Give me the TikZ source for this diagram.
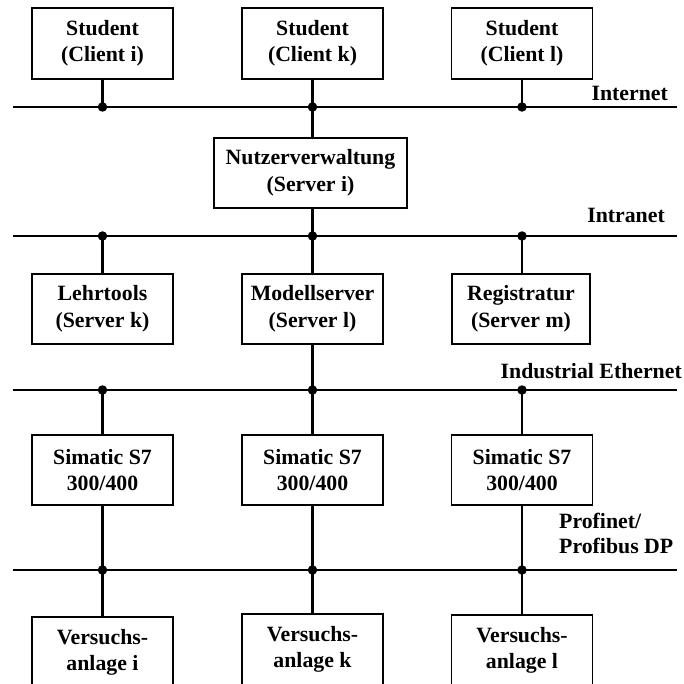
\documentclass[tikz,border=0pt]{standalone}
\usepackage{fontspec}
\setmainfont{Liberation Serif}
\begin{document}
\begin{tikzpicture}[x=1pt,y=-1pt,
  box/.style={draw, line width=1.3pt, minimum width=141pt, minimum height=71pt, inner sep=0pt, align=center, font=\fontsize{21.8}{26.5}\selectfont\bfseries},
  bus/.style={line width=2.8pt},
  link/.style={line width=2.6pt},
  dot/.style={circle, fill, inner sep=0pt, minimum size=9.5pt},
  lbl/.style={inner sep=0pt, font=\fontsize{21.8}{25}\selectfont\bfseries}]
\useasboundingbox (0,0) rectangle (684,684);
\clip (0,0) rectangle (684,684);

% boxes
\node[box] (ci) at (102.5,43.5) {Student\\(Client i)};
\node[box] (ck) at (312.5,43.5) {Student\\(Client k)};
\node[box] (cl) at (522,43.5) {Student\\(Client l)};
\node[box, minimum width=193pt, minimum height=70pt] (nv) at (310.5,173) {Nutzerverwaltung\\(Server i)};
\node[box, minimum height=70pt] (lt) at (102.5,309) {Lehrtools\\(Server k)};
\node[box, minimum height=70pt] (ms) at (312.5,309) {Modellserver\\(Server l)};
\node[box, minimum width=138pt, minimum height=70pt] (rg) at (521,309) {Registratur\\(Server m)};
\node[box, minimum height=70pt] (s1) at (102.5,470) {Simatic S7\\300/400};
\node[box, minimum height=70pt] (s2) at (312.5,470) {Simatic S7\\300/400};
\node[box, minimum height=70pt] (s3) at (522,470) {Simatic S7\\300/400};
\node[box] (v1) at (102.5,652.5) {Versuchs-\\anlage i};
\node[box] (v2) at (312.5,649.5) {Versuchs-\\anlage k};
\node[box] (v3) at (522,650.5) {Versuchs-\\anlage l};

% bus coordinates
\coordinate (iL) at (13,107);  \coordinate (iR) at (677,107);
\coordinate (i1) at (102.5,107); \coordinate (i2) at (312.5,107); \coordinate (i3) at (522,107);
\coordinate (nL) at (13,236);  \coordinate (nR) at (677,236);
\coordinate (n1) at (102.5,236); \coordinate (n2) at (312.5,236); \coordinate (n3) at (522,236);
\coordinate (eL) at (13,390);  \coordinate (eR) at (677,390);
\coordinate (e1) at (102.5,390); \coordinate (e2) at (312.5,390); \coordinate (e3) at (522,390);
\coordinate (pL) at (13,570);  \coordinate (pR) at (677,570);
\coordinate (p1) at (102.5,570); \coordinate (p2) at (312.5,570); \coordinate (p3) at (522,570);

% buses
\draw[bus] (iL) -- (iR);
\draw[bus] (nL) -- (nR);
\draw[bus] (eL) -- (eR);
\draw[bus] (pL) -- (pR);

% links
\draw[link] (ci.south) -- (i1);
\draw[link] (ck.south) -- (i2) -- (i2 |- nv.north);
\draw[link] (cl.south) -- (i3);
\draw[link] (nv.south -| n2) -- (n2);
\draw[link] (n1) -- (lt.north);
\draw[link] (n2) -- (ms.north);
\draw[link] (n3) -- (n3 |- rg.north);
\draw[link] (ms.south) -- (e2);
\draw[link] (e1) -- (s1.north);
\draw[link] (e2) -- (s2.north);
\draw[link] (e3) -- (s3.north);
\draw[link] (s1.south) -- (p1) -- (v1.north);
\draw[link] (s2.south) -- (p2) -- (v2.north);
\draw[link] (s3.south) -- (p3) -- (v3.north);

% dots
\foreach \d in {i1,i2,i3,n1,n2,n3,e1,e2,e3,p1,p2,p3}
  \node[dot] at (\d) {};

% labels
\node[lbl, anchor=base east] (linet) at (668,100.5) {Internet};
\node[lbl, anchor=base east] (lintra) at (665,222.5) {Intranet};
\node[lbl, anchor=base east] (lind) at (682,378) {Industrial Ethernet};
\node[lbl, anchor=north west, align=left] (lprof) at (559,513) {Profinet/\\Profibus DP};
\end{tikzpicture}
\end{document}
